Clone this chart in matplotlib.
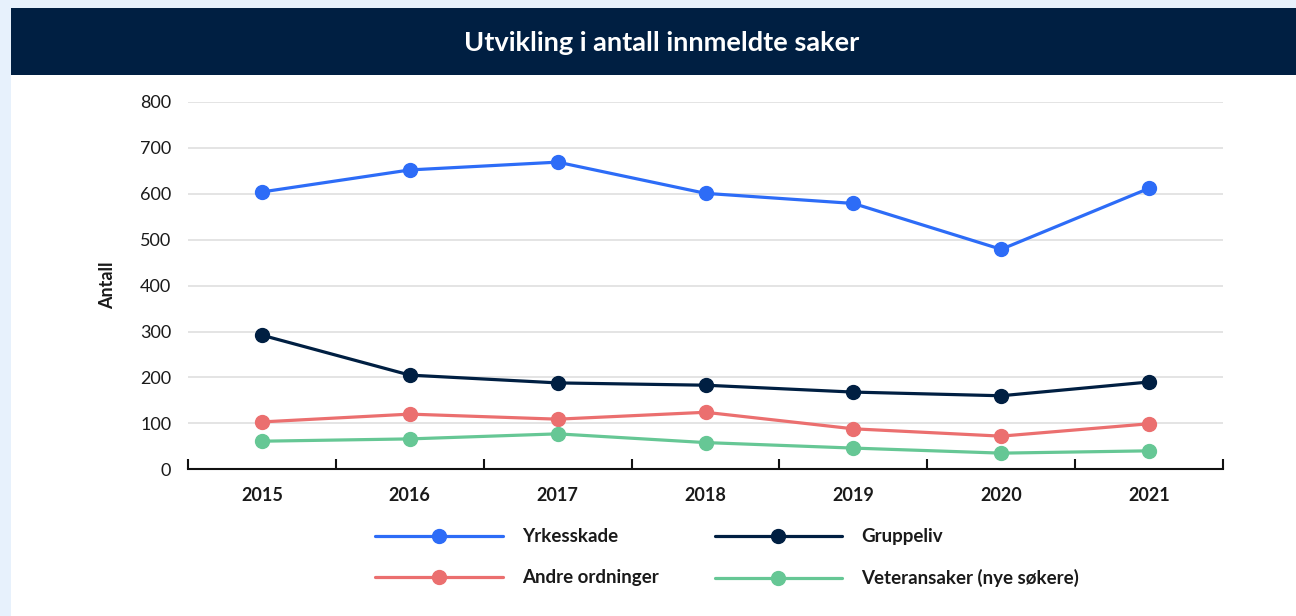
import matplotlib.pyplot as plt
from matplotlib.patches import Rectangle

plt.rcParams['font.family'] = ['Lato', 'DejaVu Sans']

# data
years = ['2015', '2016', '2017', '2018', '2019', '2020', '2021']
yrkesskade = [604, 652, 669, 601, 579, 479, 612]
gruppeliv = [292, 205, 188, 183, 168, 160, 190]
andre = [103, 120, 109, 124, 88, 72, 99]
veteran = [61, 66, 77, 58, 46, 35, 40]

series = [
    ('Yrkesskade', yrkesskade, '#2d6cf7'),
    ('Gruppeliv', gruppeliv, '#001f42'),
    ('Andre ordninger', andre, '#eb6f6f'),
    ('Veteransaker (nye søkere)', veteran, '#66c795'),
]

W, H = 1296, 616
fig = plt.figure(figsize=(W / 100, H / 100), dpi=100)
fig.patch.set_facecolor('#e7f1fc')

# white panel and title bar
fig.add_artist(Rectangle((11 / W, 0), 1, 1 - 75 / H, transform=fig.transFigure,
                         facecolor='white', edgecolor='none', zorder=0))
fig.add_artist(Rectangle((11 / W, 1 - 75 / H), 1, 67 / H, transform=fig.transFigure,
                         facecolor='#001f42', edgecolor='none', zorder=0))
fig.text(662 / W, 1 - 43 / H, 'Utvikling i antall innmeldte saker', color='white',
         fontsize=19.5, fontweight='bold', ha='center', va='center')

ax = fig.add_axes([188 / W, 1 - 469.2 / H, 1035 / W, 367.2 / H])
ax.set_facecolor('none')

x = list(range(len(years)))
lines = {}
for name, vals, col in series:
    ln, = ax.plot(x, vals, color=col, lw=2.3, marker='o', markersize=10, label=name,
                  solid_capstyle='round', zorder=3, clip_on=False)
    lines[name] = ln

ax.set_xlim(-0.5, len(years) - 0.5)
ax.set_ylim(0, 800)
ax.set_yticks(range(0, 801, 100))
ax.grid(axis='y', color='#e2e2e2', lw=1.3)
ax.set_axisbelow(True)

for s in ['top', 'right', 'left']:
    ax.spines[s].set_visible(False)
ax.spines['bottom'].set_color('#111111')
ax.spines['bottom'].set_linewidth(1.5)

ax.set_xticks([i - 0.5 for i in range(len(years) + 1)])
ax.set_xticklabels([])
ax.tick_params(axis='x', which='major', direction='in', length=7, width=1.5, color='#111111')
ax.set_xticks(x, minor=True)
ax.set_xticklabels(years, minor=True, fontsize=13, fontweight='bold', color='#1a1a1a')
ax.tick_params(axis='x', which='minor', length=0, pad=13)
ax.tick_params(axis='y', length=0, pad=12, labelsize=13, labelcolor='#1a1a1a')

ax.set_ylabel('Antall', fontsize=13, fontweight='bold', color='#1a1a1a', labelpad=17)

# legend filled row by row: matplotlib fills columns, so reorder
order = ['Yrkesskade', 'Andre ordninger', 'Gruppeliv', 'Veteransaker (nye søkere)']
leg = fig.legend([lines[n] for n in order], order, loc='upper left',
                 bbox_to_anchor=(366 / W, 1 - 519 / H), ncol=2, frameon=False,
                 borderpad=0, handlelength=6.8, handletextpad=1.0,
                 columnspacing=3.0, labelspacing=1.27, prop={'size': 13.5, 'weight': 'bold'})
for t in leg.get_texts():
    t.set_color('#1a1a1a')

fig.savefig('out.png', dpi=100, facecolor=fig.get_facecolor())
